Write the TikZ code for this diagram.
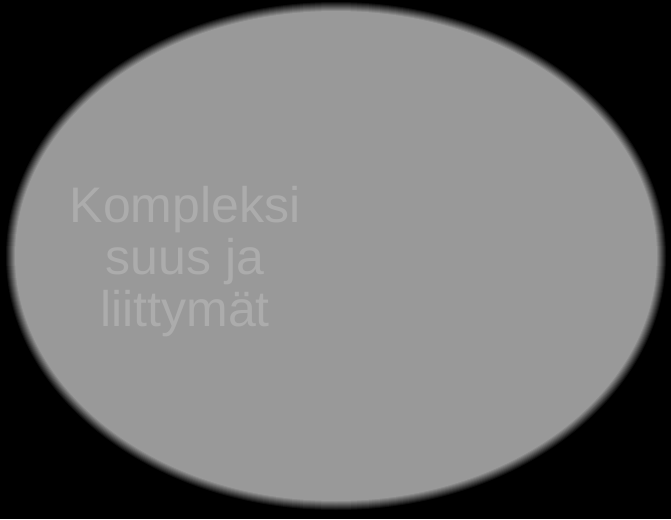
\documentclass[tikz,border=0pt]{standalone}
\usepackage{fontspec}
\setmainfont{Liberation Sans}
\definecolor{discgray}{RGB}{153,153,153}
\definecolor{textgray}{RGB}{172,172,172}
\begin{document}
\begin{tikzpicture}[x=1pt,y=-1pt]
      \pgfmathsetmacro{\rx}{326}
      \pgfmathsetmacro{\ry}{250}

      \fill[black] (0,0) rectangle (671,519);
      \useasboundingbox (0,0) rectangle (671,519);

      \foreach \i in {0,...,10} {
        \pgfmathsetmacro{\m}{\i*10}
        \fill[discgray!\m!black] (336,256) ellipse ({\rx+5-\i} and {\ry+5-\i});
      }

      \node[text=textgray,align=center,font=\fontsize{50}{52}\selectfont] (T) at (185,262) {Kompleksi\\suus ja\\liittymät};
    \end{tikzpicture}
\end{document}
